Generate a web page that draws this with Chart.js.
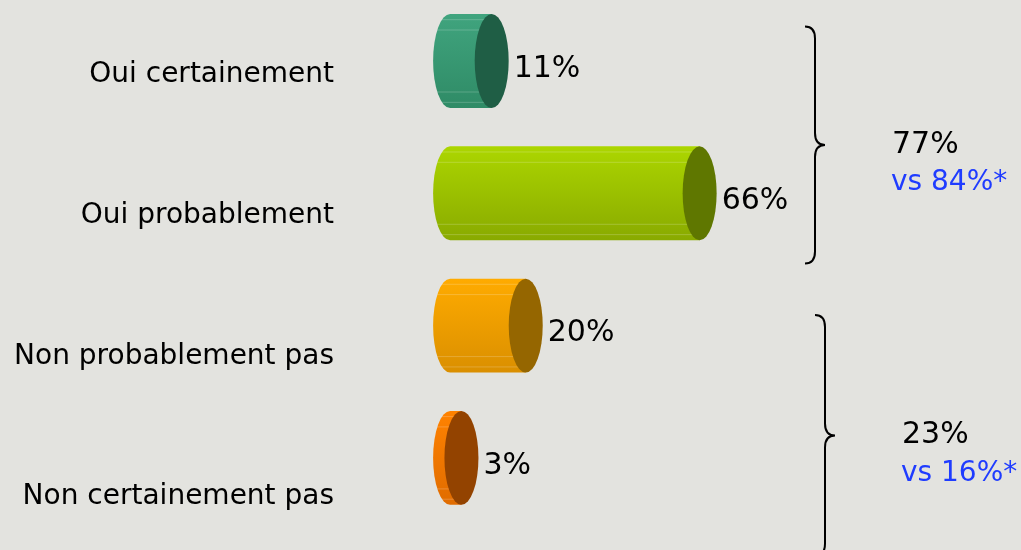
<!DOCTYPE html>
<html lang="fr">
<head>
  <meta charset="UTF-8">
  <title>Intention</title>
  <script src="https://cdn.jsdelivr.net/npm/chart.js@4/dist/chart.umd.min.js"></script>
  <style>
    body { margin: 0; background: #e3e3df; }
    #wrap { width: 1021px; height: 550px; position: relative; }
  </style>
</head>
<body>
  <div id="wrap"><canvas id="myChart"></canvas></div>
  <script>
    // chart data
    const categories = ['Oui certainement', 'Oui probablement', 'Non probablement pas', 'Non certainement pas'];
    const values = [11, 66, 20, 3];
    const groupTotals = ['77%', '23%'];
    const groupCompare = ['vs 84%*', 'vs 16%*'];

    // styles
    const bodyTop = ['#40a47e', '#acd600', '#ffab00', '#ff8200'];
    const bodyBottom = ['#2f8b66', '#89aa00', '#da8f00', '#e06c00'];
    const capColors = ['#1f5e45', '#5f7700', '#956600', '#934300'];
    const FONT = '"DejaVu Sans", Verdana, sans-serif';

    // braces: which bars they group, expressed on the bar axis
    const braces = [
      { from: -0.26, to: 1.53, x: 815 },
      { from: 1.92, to: 3.74, x: 825 }
    ];

    const indexTicks = (s) => { s.ticks = categories.map((_, i) => ({ value: i })); };

    const cylinders = {
      id: 'cylinders',
      afterDatasetsDraw(chart) {
        const ctx = chart.ctx;
        const meta = chart.getDatasetMeta(0);
        meta.data.forEach((el, i) => {
          const { x, y, base, height } = el.getProps(['x', 'y', 'base', 'height'], true);
          const rx = 17, ry = height / 2;
          const top = y - ry, bottom = y + ry;

          ctx.save();
          const grad = ctx.createLinearGradient(0, top, 0, bottom);
          grad.addColorStop(0, bodyTop[i]);
          grad.addColorStop(1, bodyBottom[i]);
          ctx.beginPath();
          ctx.ellipse(base, y, rx, ry, 0, Math.PI / 2, Math.PI * 3 / 2);
          ctx.lineTo(x, top);
          ctx.lineTo(x, bottom);
          ctx.closePath();
          ctx.fillStyle = grad;
          ctx.fill();
          ctx.clip();
          // faint facet lines
          ctx.strokeStyle = 'rgba(255,255,255,0.2)';
          ctx.lineWidth = 1;
          [0.06, 0.17, 0.83, 0.94].forEach(k => {
            ctx.beginPath();
            ctx.moveTo(base - rx, top + k * height);
            ctx.lineTo(x, top + k * height);
            ctx.stroke();
          });
          ctx.restore();

          // end cap
          ctx.beginPath();
          ctx.ellipse(x, y, rx, ry, 0, 0, Math.PI * 2);
          ctx.fillStyle = capColors[i];
          ctx.fill();

          // value label
          ctx.fillStyle = '#000';
          ctx.font = '30px ' + FONT;
          ctx.textBaseline = 'middle';
          ctx.textAlign = 'left';
          ctx.fillText(values[i] + '%', x + rx + 5, y + 8);
        });

        // braces and group totals
        const ys = chart.scales.y;
        braces.forEach((b, g) => {
          const t = ys.getPixelForValue(b.from);
          const bt = ys.getPixelForValue(b.to);
          const m = (t + bt) / 2;
          const bx = b.x;
          ctx.beginPath();
          ctx.moveTo(bx - 10, t);
          ctx.quadraticCurveTo(bx, t, bx, t + 12);
          ctx.lineTo(bx, m - 12);
          ctx.quadraticCurveTo(bx, m, bx + 10, m);
          ctx.quadraticCurveTo(bx, m, bx, m + 12);
          ctx.lineTo(bx, bt - 12);
          ctx.quadraticCurveTo(bx, bt, bx - 10, bt);
          ctx.strokeStyle = '#000';
          ctx.lineWidth = 2;
          ctx.stroke();

          ctx.textAlign = 'left';
          ctx.textBaseline = 'middle';
          ctx.font = '30px ' + FONT;
          ctx.fillStyle = '#000';
          ctx.fillText(groupTotals[g], bx + 77, m);
          ctx.font = '28px ' + FONT;
          ctx.fillStyle = '#1f3cff';
          ctx.fillText(groupCompare[g], bx + 76, m + 38);
        });
      }
    };

    const ctx = document.getElementById('myChart').getContext('2d');
    new Chart(ctx, {
      type: 'bar',
      data: {
        datasets: [{
          data: values.map((v, i) => ({ x: v, y: i })),
          backgroundColor: 'rgba(0,0,0,0)',
          borderWidth: 0,
          barPercentage: 0.71,
          categoryPercentage: 1,
          xAxisID: 'x',
          yAxisID: 'y'
        }]
      },
      options: {
        indexAxis: 'y',
        responsive: true,
        maintainAspectRatio: false,
        animation: false,
        layout: { padding: 0 },
        plugins: { legend: { display: false }, tooltip: { enabled: false } },
        scales: {
          x: { type: 'linear', min: -27.8, max: 151, display: false },
          y: {
            type: 'linear', reverse: true, offset: false, bounds: 'data',
            min: -0.251, max: 3.486, display: false,
            afterBuildTicks: indexTicks
          },
          yl: {
            type: 'linear',
            position: 'left',
            reverse: true,
            offset: false,
            bounds: 'data',
            min: -0.3355,
            max: 3.178,
            grid: { display: false, drawTicks: false },
            border: { display: false },
            afterBuildTicks: indexTicks,
            afterFit: (s) => { s.width = 345; },
            ticks: {
              autoSkip: false,
              padding: 11,
              color: '#000',
              font: { family: FONT, size: 28 },
              callback: (v) => categories[v]
            }
          }
        }
      },
      plugins: [cylinders]
    });
  </script>
</body>
</html>
